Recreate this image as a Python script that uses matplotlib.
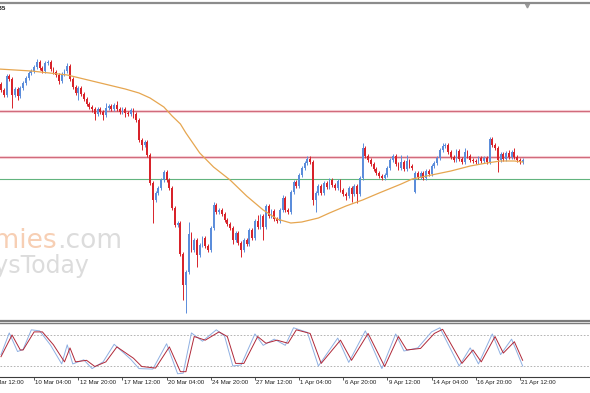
import numpy as np
import matplotlib
matplotlib.use("Agg")
import matplotlib.pyplot as plt
from matplotlib.transforms import blended_transform_factory

# H4 candles, price in chart points
closes = [310, 305, 324, 321, 305, 311, 304, 312, 317, 322, 327, 329, 333, 338, 332, 329, 337, 338, 331, 328,
          325, 319, 326, 329, 334, 321, 313, 307, 312, 306, 301, 296, 293, 291, 286, 291, 288, 285, 292, 294,
          291, 295, 291, 288, 291, 287, 286, 290, 286, 280, 260, 255, 258, 245, 217, 200, 207, 212, 220, 228,
          220, 212, 192, 175, 177, 146, 115, 128, 166, 150, 160, 145, 155, 162, 154, 150, 172, 195, 188, 190,
          186, 180, 176, 172, 160, 167, 157, 150, 160, 156, 170, 162, 179, 173, 184, 173, 194, 184, 189, 181,
          179, 190, 202, 190, 188, 208, 218, 214, 225, 232, 237, 241, 238, 200, 207, 214, 207, 217, 213, 220,
          215, 212, 219, 210, 206, 204, 212, 206, 214, 206, 222, 252, 244, 240, 236, 231, 227, 224, 222, 225,
          232, 240, 244, 236, 232, 238, 231, 239, 234, 232, 227, 223, 227, 222, 229, 226, 234, 237, 242, 250,
          254, 255, 248, 243, 240, 249, 241, 238, 248, 244, 240, 239, 238, 242, 239, 242, 238, 261, 255, 252,
          240, 246, 241, 247, 243, 248, 243, 240, 238, 240]
opens = [316, 310, 305, 324, 321, 305, 311, 304, 312, 317, 322, 327, 329, 333, 338, 332, 329, 337, 338, 331,
         328, 325, 319, 326, 329, 334, 321, 313, 307, 312, 306, 301, 296, 293, 291, 286, 291, 288, 285, 292,
         294, 291, 295, 291, 288, 291, 287, 286, 290, 286, 280, 260, 255, 258, 245, 217, 200, 207, 212, 220,
         228, 220, 212, 192, 175, 177, 146, 115, 128, 166, 150, 160, 145, 155, 162, 154, 150, 172, 195, 188,
         190, 186, 180, 176, 172, 160, 167, 157, 150, 160, 156, 170, 162, 179, 173, 184, 173, 194, 184, 189,
         181, 179, 190, 202, 190, 188, 208, 218, 214, 225, 232, 237, 241, 238, 200, 207, 214, 207, 217, 213,
         220, 215, 212, 219, 210, 206, 204, 212, 206, 214, 206, 222, 252, 244, 240, 236, 231, 227, 224, 222,
         225, 232, 240, 244, 236, 232, 238, 231, 239, 234, 208, 227, 223, 227, 222, 229, 226, 234, 237, 242,
         250, 254, 255, 248, 243, 240, 249, 241, 238, 248, 244, 240, 239, 238, 242, 239, 242, 238, 261, 255,
         252, 240, 246, 241, 247, 243, 248, 243, 240, 238]
# wick lengths beyond the body (default 2)
upper_wicks = {13: 3, 24: 3, 38: 5, 42: 4, 68: 12, 77: 3, 93: 6, 102: 3, 111: 3, 112: 3, 131: 5,
               145: 7, 147: 6, 160: 3, 168: 4, 184: 3, 186: 4}
lower_wicks = {4: 13, 6: 4, 21: 3, 28: 7, 33: 3, 34: 6, 37: 5, 45: 4, 48: 4, 51: 5, 55: 23, 66: 15,
               67: 28, 71: 12, 84: 4, 87: 7, 95: 13, 113: 5, 114: 12, 125: 4, 127: 8, 129: 9, 150: 1,
               180: 12}

ma_bars = [-1, 11, 24, 36, 45, 50, 54, 59, 62, 65, 67, 72, 77, 83, 89, 95, 100, 105, 109, 115, 119,
           125, 131, 137, 145, 149, 156, 163, 170, 176, 181, 186, 189]
ma_vals = [331, 329, 325, 317, 311, 307, 302, 293, 284, 276, 267, 247, 233, 220, 204, 190, 181, 177,
           178, 182, 187, 194, 200, 207, 216, 221, 225, 229, 234, 237, 239, 239, 238]

levels_red = [289, 243]
level_green = 221

# stochastic
sig_bars = [0, 4, 7, 8, 12, 15, 19, 23, 25, 27, 31, 34, 38, 42, 48, 51, 56, 61, 65, 67, 70, 74, 79, 82,
            85, 88, 93, 96, 100, 104, 107, 112, 116, 123, 127, 133, 139, 144, 147, 152, 157, 160, 167,
            171, 174, 179, 182, 186, 189]
sig_vals = [38, 80, 51, 51, 86, 86, 61, 28, 55, 28, 31, 19, 28, 57, 35, 19, 16, 57, 9, 9, 77, 70, 86, 77,
            25, 25, 77, 64, 70, 64, 90, 83, 25, 70, 31, 83, 19, 77, 51, 54, 83, 91, 25, 51, 28, 77, 45,
            67, 31]
main_bars = [0, 3, 6, 8, 11, 14, 18, 22, 24, 26, 30, 33, 37, 41, 47, 50, 55, 60, 64, 66, 69, 73, 78, 81,
             84, 87, 92, 95, 99, 103, 106, 111, 115, 122, 126, 132, 138, 143, 146, 151, 156, 159, 166,
             170, 173, 178, 181, 185, 189]
main_vals = [42, 84, 48, 52, 90, 88, 60, 24, 61, 24, 32, 15, 28, 62, 33, 15, 14, 63, 5, 6, 84, 68, 90, 78,
             20, 22, 82, 60, 72, 60, 94, 85, 20, 74, 27, 88, 15, 82, 49, 55, 86, 94, 20, 55, 24, 82, 42,
             72, 20]

tick_labels = ['5 Mar 12:00', '10 Mar 04:00', '12 Mar 20:00', '17 Mar 12:00', '20 Mar 04:00',
               '24 Mar 20:00', '27 Mar 12:00', '1 Apr 04:00', '6 Apr 20:00', '9 Apr 12:00',
               '14 Apr 04:00', '16 Apr 20:00', '21 Apr 12:00']
tick_bars = [-4, 12, 28, 44, 60, 76, 92, 108, 124, 140, 156, 172, 188]

assert len(opens) == len(closes)

UP, DOWN = '#5b8ddb', '#d8232a'

fig = plt.figure(figsize=(5.9, 3.93), dpi=100)
fig.patch.set_facecolor('white')

ax = fig.add_axes([0, 0.1832, 1.0, 0.8092])
ax2 = fig.add_axes([0, 0.0407, 1.0, 0.1374], sharex=ax)

n = len(closes)
x = np.arange(n)
o = np.array(opens, float)
c = np.array(closes, float)
top = np.maximum(o, c)
bot = np.minimum(o, c)
hi = top + np.array([upper_wicks.get(i, 2) for i in range(n)])
lo = bot - np.array([lower_wicks.get(i, 2) for i in range(n)])
cols = [UP if cc > oo else DOWN for oo, cc in zip(o, c)]

# levels
for lv in levels_red:
    ax.axhline(lv, color='#f4cdd3', lw=2.2, zorder=1)
    ax.axhline(lv, color='#d0687a', lw=0.7, zorder=1.5)
ax.axhline(level_green, color='#62b47e', lw=0.8, zorder=1.5)

ax.vlines(x, lo, hi, colors=cols, lw=0.7, zorder=2)
ax.bar(x, np.maximum(top - bot, 0.9), bottom=bot, width=0.66, color=cols, linewidth=0, zorder=3)
ax.plot(ma_bars, ma_vals, color='#e6a650', lw=0.9, zorder=4)

ax.set_xlim(-0.36, 213.4)
ax.set_ylim(79, 397)
ax.set_yticks([])
for s in ['left', 'right']:
    ax.spines[s].set_visible(False)
ax.spines['top'].set_color('#8c8c8c')
ax.spines['top'].set_linewidth(1.6)
ax.spines['bottom'].set_color('#7c7c7c')
ax.spines['bottom'].set_linewidth(1.6)
ax.tick_params(axis='x', bottom=False, labelbottom=False)

# chart shift marker
tr = blended_transform_factory(ax.transData, ax.transAxes)
ax.plot([n + 0.5], [0.995], marker='v', ms=3.5, color='#9a9a9a', transform=tr, clip_on=False)

# stochastic panel
ax2.axhline(80, color='#a8a8a8', lw=0.6, ls=(0, (2, 2)))
ax2.axhline(20, color='#a8a8a8', lw=0.6, ls=(0, (2, 2)))
ax2.plot(main_bars, main_vals, color='#8fb0e2', lw=0.7)
ax2.plot(sig_bars, sig_vals, color='#b02838', lw=0.7)
ax2.set_ylim(-1.3, 103.2)
ax2.set_yticks([])
for s in ['left', 'right']:
    ax2.spines[s].set_visible(False)
ax2.spines['top'].set_color('#7c7c7c')
ax2.spines['top'].set_linewidth(1.0)
ax2.spines['bottom'].set_color('#3c3c3c')
ax2.spines['bottom'].set_linewidth(0.8)
ax2.set_xticks([b for b in tick_bars if b >= 0])
ax2.tick_params(axis='x', direction='out', length=2.5, width=0.6, color='#3c3c3c', labelbottom=False)
tr2 = blended_transform_factory(ax2.transData, ax2.transAxes)
for b, lab in zip(tick_bars, tick_labels):
    ax2.text(b + 0.5, -0.11, lab, transform=tr2, ha='left', va='center', fontsize=4.4,
             family='Liberation Sans', color='#202020', clip_on=False)

# watermark and header fragment
fig.text(57 / 590, 1 - 248 / 393, 'Economies', ha='right', va='baseline', fontsize=19,
         color='#f7cfb4', family='DejaVu Sans')
fig.text(57 / 590, 1 - 248 / 393, '.com', ha='left', va='baseline', fontsize=19,
         color='#dcdcdc', family='DejaVu Sans')
fig.text(90 / 590, 1 - 273 / 393, 'daysToday', ha='right', va='baseline', fontsize=17,
         color='#dcdcdc', family='DejaVu Sans')
fig.text(6 / 590, 1 - 9 / 393, '1.2835', ha='right', va='center', fontsize=4.5,
         weight='bold', color='#202020', family='Liberation Sans')

fig.savefig('out.png', dpi=100, facecolor='white')
